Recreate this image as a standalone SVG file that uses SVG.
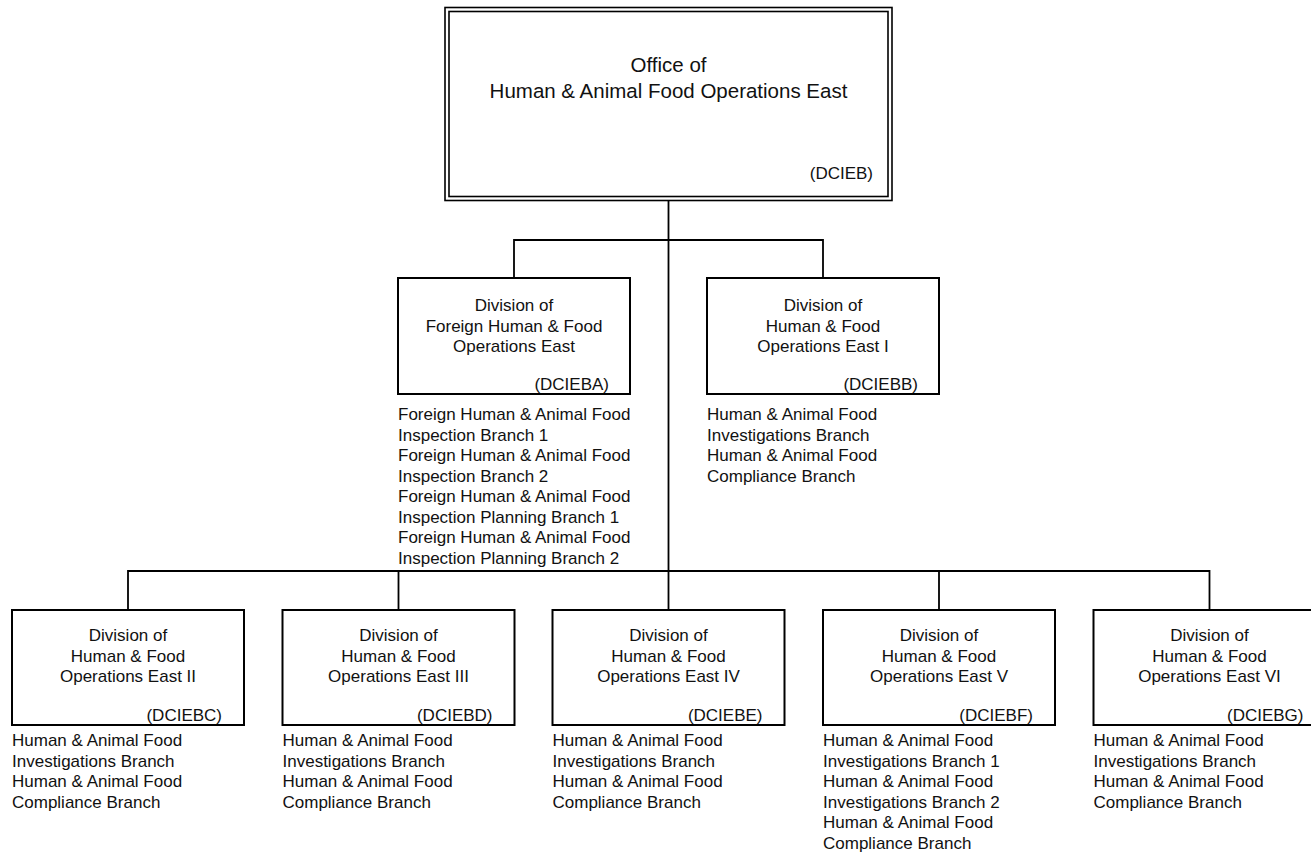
<svg xmlns="http://www.w3.org/2000/svg" width="1311" height="853" viewBox="0 0 1311 853">
<style>
  text { font-family: "Liberation Sans", Arial, sans-serif; font-size: 17px; fill: #111; }
  .title { font-size: 20.5px; }
  .c { text-anchor: middle; }
  .r { text-anchor: end; }
  .box { fill: #fff; stroke: #000; stroke-width: 2; }
  .dbl { fill: none; stroke: #000; stroke-width: 1.6; }
  .conn { fill: none; stroke: #000; stroke-width: 1.8; }
</style>
<rect width="1311" height="853" fill="#fff"/>
<g id="connectors">
  <path class="conn" d="M668.5,201 V610"/>
  <path class="conn" d="M514,278 V240 H823 V278"/>
  <path class="conn" d="M128,610 V571 H1209.5 V610"/>
  <path class="conn" d="M398.5,571 V610 M939,571 V610"/>
</g>
<g id="DCIEB">
  <rect class="dbl" x="445" y="7.5" width="447" height="193"/>
  <rect class="dbl" x="449" y="11.5" width="439" height="185"/>
  <text class="title c" x="668.5" y="72">Office of</text>
  <text class="title c" x="668.5" y="97.5">Human &amp; Animal Food Operations East</text>
  <text class="r" x="873" y="179">(DCIEB)</text>
</g>
<g id="DCIEBA">
  <rect class="box" x="398" y="278" width="232" height="116"/>
  <text class="c" x="514" y="311">Division of</text>
  <text class="c" x="514" y="331.5">Foreign Human &amp; Food</text>
  <text class="c" x="514" y="352">Operations East</text>
  <text class="r" x="609" y="390">(DCIEBA)</text>
  <text x="398" y="420">Foreign Human &amp; Animal Food</text>
  <text x="398" y="440.5">Inspection Branch 1</text>
  <text x="398" y="461">Foreign Human &amp; Animal Food</text>
  <text x="398" y="481.5">Inspection Branch 2</text>
  <text x="398" y="502">Foreign Human &amp; Animal Food</text>
  <text x="398" y="522.5">Inspection Planning Branch 1</text>
  <text x="398" y="543">Foreign Human &amp; Animal Food</text>
  <text x="398" y="563.5">Inspection Planning Branch 2</text>
</g>
<g id="DCIEBB">
  <rect class="box" x="707" y="278" width="232" height="116"/>
  <text class="c" x="823" y="311">Division of</text>
  <text class="c" x="823" y="331.5">Human &amp; Food</text>
  <text class="c" x="823" y="352">Operations East I</text>
  <text class="r" x="918" y="390">(DCIEBB)</text>
  <text x="707" y="420">Human &amp; Animal Food</text>
  <text x="707" y="440.5">Investigations Branch</text>
  <text x="707" y="461">Human &amp; Animal Food</text>
  <text x="707" y="481.5">Compliance Branch</text>
</g>
<g id="DCIEBC">
  <rect class="box" x="12" y="610" width="232" height="115"/>
  <text class="c" x="128" y="641">Division of</text>
  <text class="c" x="128" y="661.5">Human &amp; Food</text>
  <text class="c" x="128" y="682">Operations East II</text>
  <text class="r" x="222" y="721">(DCIEBC)</text>
  <text x="12" y="746">Human &amp; Animal Food</text>
  <text x="12" y="766.5">Investigations Branch</text>
  <text x="12" y="787">Human &amp; Animal Food</text>
  <text x="12" y="807.5">Compliance Branch</text>
</g>
<g id="DCIEBD">
  <rect class="box" x="282.5" y="610" width="232" height="115"/>
  <text class="c" x="398.5" y="641">Division of</text>
  <text class="c" x="398.5" y="661.5">Human &amp; Food</text>
  <text class="c" x="398.5" y="682">Operations East III</text>
  <text class="r" x="492.5" y="721">(DCIEBD)</text>
  <text x="282.5" y="746">Human &amp; Animal Food</text>
  <text x="282.5" y="766.5">Investigations Branch</text>
  <text x="282.5" y="787">Human &amp; Animal Food</text>
  <text x="282.5" y="807.5">Compliance Branch</text>
</g>
<g id="DCIEBE">
  <rect class="box" x="552.5" y="610" width="232" height="115"/>
  <text class="c" x="668.5" y="641">Division of</text>
  <text class="c" x="668.5" y="661.5">Human &amp; Food</text>
  <text class="c" x="668.5" y="682">Operations East IV</text>
  <text class="r" x="762.5" y="721">(DCIEBE)</text>
  <text x="552.5" y="746">Human &amp; Animal Food</text>
  <text x="552.5" y="766.5">Investigations Branch</text>
  <text x="552.5" y="787">Human &amp; Animal Food</text>
  <text x="552.5" y="807.5">Compliance Branch</text>
</g>
<g id="DCIEBF">
  <rect class="box" x="823" y="610" width="232" height="115"/>
  <text class="c" x="939" y="641">Division of</text>
  <text class="c" x="939" y="661.5">Human &amp; Food</text>
  <text class="c" x="939" y="682">Operations East V</text>
  <text class="r" x="1033" y="721">(DCIEBF)</text>
  <text x="823" y="746">Human &amp; Animal Food</text>
  <text x="823" y="766.5">Investigations Branch 1</text>
  <text x="823" y="787">Human &amp; Animal Food</text>
  <text x="823" y="807.5">Investigations Branch 2</text>
  <text x="823" y="828">Human &amp; Animal Food</text>
  <text x="823" y="848.5">Compliance Branch</text>
</g>
<g id="DCIEBG">
  <rect class="box" x="1093.5" y="610" width="232" height="115"/>
  <text class="c" x="1209.5" y="641">Division of</text>
  <text class="c" x="1209.5" y="661.5">Human &amp; Food</text>
  <text class="c" x="1209.5" y="682">Operations East VI</text>
  <text class="r" x="1303.5" y="721">(DCIEBG)</text>
  <text x="1093.5" y="746">Human &amp; Animal Food</text>
  <text x="1093.5" y="766.5">Investigations Branch</text>
  <text x="1093.5" y="787">Human &amp; Animal Food</text>
  <text x="1093.5" y="807.5">Compliance Branch</text>
</g>
</svg>
